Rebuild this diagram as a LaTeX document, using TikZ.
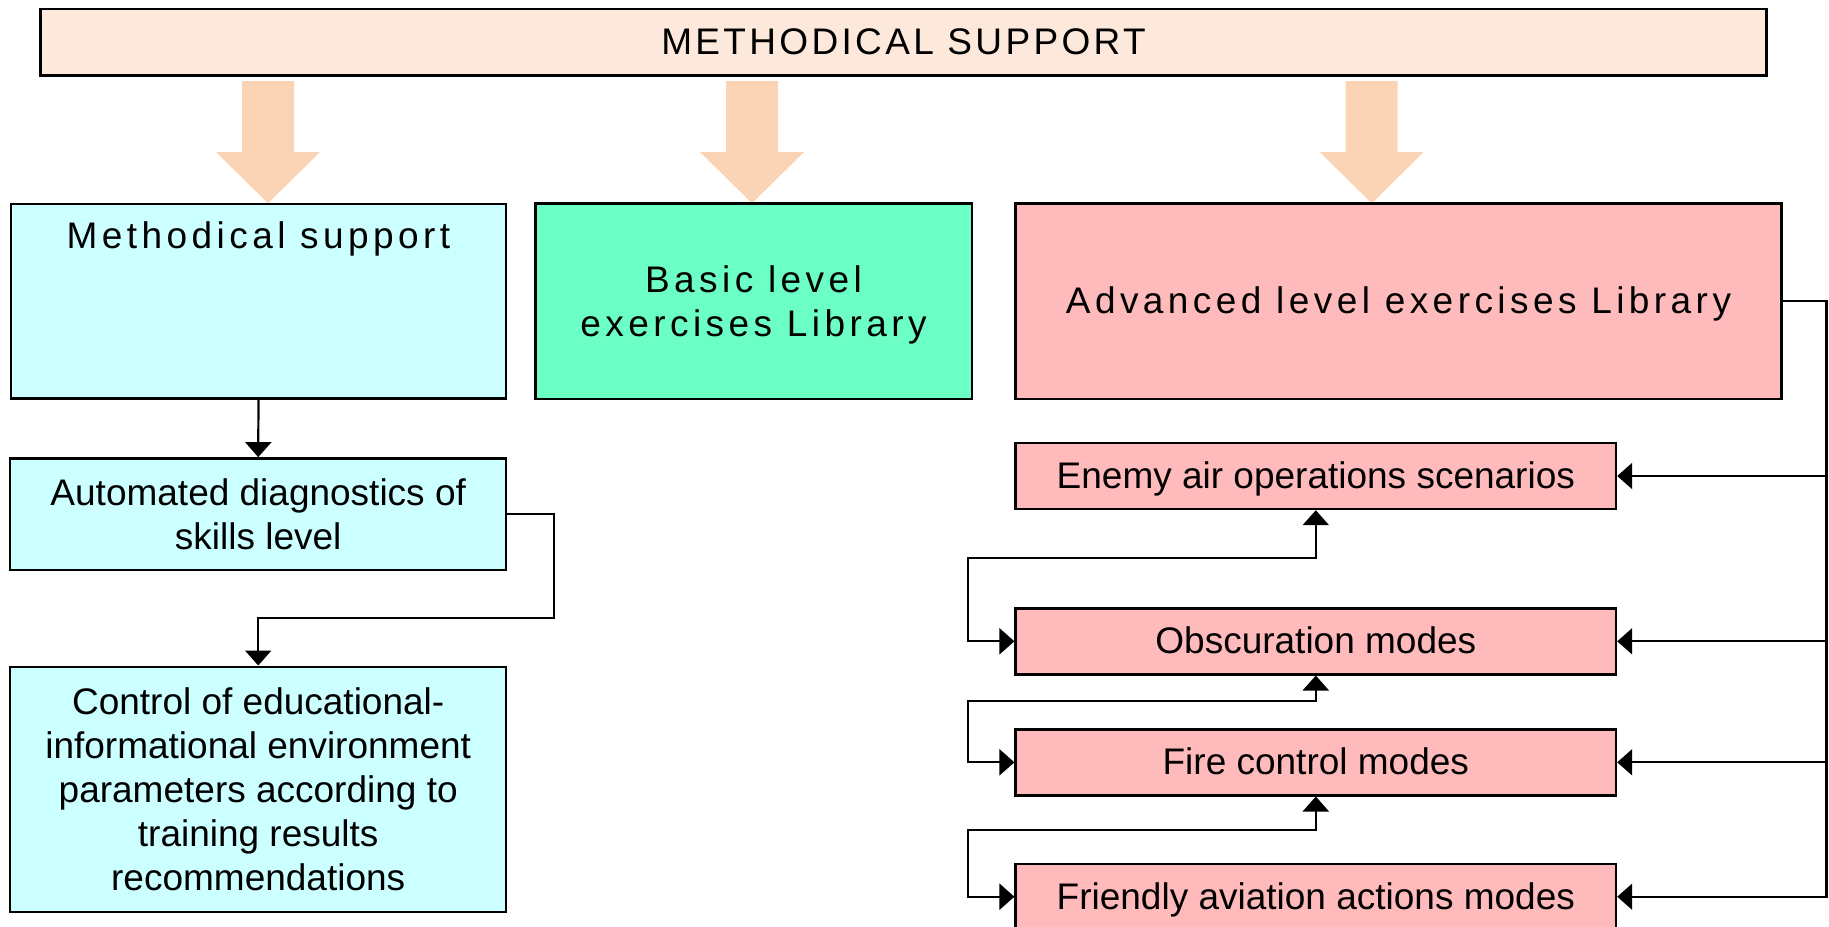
\documentclass[tikz,border=0pt]{standalone}
\usepackage{fontspec}
\setmainfont{Liberation Sans}
\newfontfamily\widefont[LetterSpace=12]{Liberation Sans}
\newfontfamily\titlefont[LetterSpace=9]{Liberation Sans}
\usetikzlibrary{arrows.meta}
\definecolor{topfill}{HTML}{FDE9DB}
\definecolor{arrowfill}{HTML}{FAD4B4}
\definecolor{cyanfill}{HTML}{CCFFFF}
\definecolor{greenfill}{HTML}{6CFFC5}
\definecolor{pinkfill}{HTML}{FFBBBB}
\begin{document}
\begin{tikzpicture}[x=0.5pt,y=-0.5pt,
    block/.style={draw,line width=1.2pt,inner sep=0pt,align=center,font=\fontsize{18.5}{22}\selectfont},
    oneline/.style={text height=13.5pt,text depth=1pt},
    widetext/.style={font=\fontsize{18.5}{22}\selectfont\widefont},
    link/.style={line width=1.1pt,-{Triangle[length=7.5pt,width=13pt]}},
    twoway/.style={line width=1.1pt,{Triangle[length=7.5pt,width=13pt]}-{Triangle[length=7.5pt,width=13pt]}}]
  \useasboundingbox (0,0) rectangle (1829,926);
  \clip (0,0) rectangle (1829,926);
  \foreach \x in {268,752,1371.7}
    \fill[arrowfill] (\x-26,81) -- (\x+26,81) -- (\x+26,152) -- (\x+52,152) -- (\x,203.3) -- (\x-52,152) -- (\x-26,152) -- cycle;
  \node[block,fill=topfill,minimum width=863.15pt,minimum height=33.35pt,font=\fontsize{18.5}{22}\selectfont\titlefont] (top) at (903.5,42.3) {\raisebox{1.2pt}{METHODICAL SUPPORT}};
  \node[block,widetext,fill=cyanfill,minimum width=247.5pt,text height=22.3pt,text depth=75pt] (ms) at (258.5,301) {Methodical support};
  \node[block,widetext,fill=greenfill,minimum width=218.2pt,minimum height=97.65pt] (basic) at (753.5,301.3) {\rule{0pt}{16.6pt}Basic level\\exercises Library};
  \node[block,widetext,oneline,fill=pinkfill,minimum width=382.85pt,minimum height=97.65pt] (adv) at (1398.5,301.3) {Advanced level exercises Library};
  \node[block,fill=cyanfill,minimum width=248pt,minimum height=55.85pt] (auto) at (258.2,514.2) {Automated diagnostics of\\skills level};
  \node[block,fill=cyanfill,minimum width=248pt,minimum height=122.5pt] (ctrl) at (258.2,789.2) {Control of educational-\\informational environment\\parameters according to\\training results\\recommendations};
  \foreach \n/\y/\t in {enemy/476/Enemy air operations scenarios,obsc/641.3/Obscuration modes,fire/762.3/Fire control modes,friend/896.7/Friendly aviation actions modes}
    \node[block,oneline,fill=pinkfill,minimum width=300.2pt,minimum height=33pt] (\n) at (1315.8,\y) {\t};
  \draw[link] (ms.south) -- (auto.north);
  \draw[link] (auto.east) -| (553.8,618.3) -| (ctrl.north);
  \coordinate (bus) at (1826.5,0);
  \draw[link] (adv.east) -| (bus |- friend.east) -- (friend.east);
  \foreach \n in {enemy,obsc,fire}
    \draw[link] (bus |- \n.east) -- (\n.east);
  \foreach \a/\b/\y in {enemy/obsc/558.3,obsc/fire/701,fire/friend/830}
    \draw[twoway] (\a.south) |- (968,\y) |- (\b.west);
\end{tikzpicture}
\end{document}
